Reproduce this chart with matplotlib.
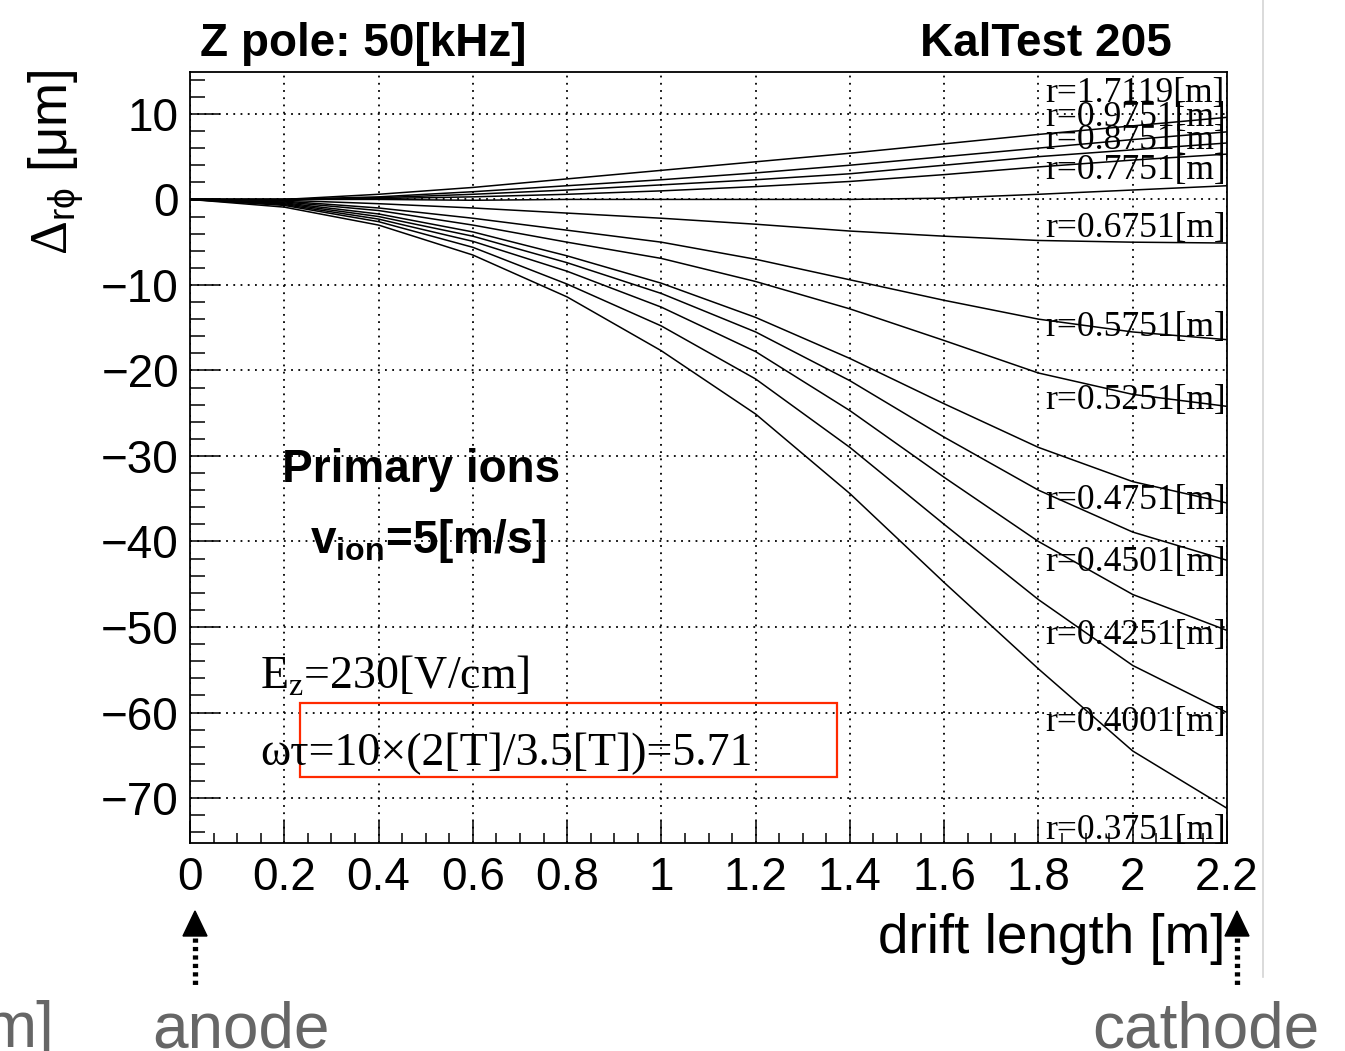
import matplotlib
matplotlib.use("Agg")
import matplotlib.pyplot as plt
from matplotlib.patches import Rectangle, Polygon
from matplotlib.lines import Line2D
from matplotlib.ticker import MultipleLocator, FuncFormatter
from matplotlib.transforms import blended_transform_factory

plt.rcParams['mathtext.fontset'] = 'custom'
plt.rcParams['mathtext.rm'] = 'Liberation Serif'
plt.rcParams['mathtext.sf'] = 'Liberation Sans'
plt.rcParams['mathtext.bf'] = 'Liberation Sans:bold'

# drift length sample points [m]
drift = [0.0, 0.2, 0.4, 0.6, 0.8, 1.0, 1.2, 1.4, 1.6, 1.8, 2.0, 2.2]

# r-phi distortion [um] for each radius
d_17119 = [0, 0, 0.6, 1.4, 2.4, 3.4, 4.4, 5.4, 6.5, 7.6, 8.6, 9.6]
d_09751 = [0, 0, 0.3, 0.9, 1.6, 2.3, 3.1, 4.0, 5.0, 6.0, 7.0, 7.9]
d_08751 = [0, 0, 0.2, 0.6, 1.1, 1.7, 2.3, 3.0, 4.0, 5.0, 5.8, 6.6]
d_08251 = [0, 0, 0.1, 0.3, 0.6, 1.0, 1.5, 2.1, 2.9, 3.8, 4.6, 5.3]
d_07751 = [0, 0, 0, -0.1, 0, 0, 0, 0, 0.15, 0.6, 1.1, 1.6]
d_06751 = [0, -0.1, -0.5, -1.0, -1.6, -2.2, -2.9, -3.7, -4.3, -4.8, -5.0, -5.1]
d_05751 = [0, -0.2, -1.0, -2.2, -3.6, -5.0, -7.0, -9.4, -11.8, -14.0, -15.5, -16.4]
d_05251 = [0, -0.3, -1.3, -3.0, -5.0, -6.9, -9.6, -12.8, -16.5, -20.3, -22.8, -24.2]
d_04751 = [0, -0.4, -1.7, -3.8, -6.6, -9.8, -13.8, -18.6, -23.9, -29.0, -33.0, -35.5]
d_04501 = [0, -0.5, -2.0, -4.3, -7.4, -11.0, -15.5, -21.2, -27.8, -34.0, -38.9, -42.2]
d_04251 = [0, -0.6, -2.3, -4.9, -8.4, -12.6, -17.8, -24.7, -32.5, -40.0, -46.2, -50.4]
d_04001 = [0, -0.7, -2.6, -5.6, -9.9, -14.8, -21.0, -29.0, -38.0, -46.8, -54.5, -60.0]
d_03751 = [0, -0.9, -3.0, -6.5, -11.4, -17.7, -25.1, -34.4, -44.8, -54.9, -64.5, -71.2]

curves = [d_17119, d_09751, d_08751, d_08251, d_07751, d_06751, d_05751,
          d_05251, d_04751, d_04501, d_04251, d_04001, d_03751]

# curve labels drawn at the right edge
label_names = ["1.7119", "0.9751", "0.8751", "0.7751", "0.6751", "0.5751",
               "0.5251", "0.4751", "0.4501", "0.4251", "0.4001", "0.3751"]
label_y = [12.4, 9.6, 6.9, 3.4, -3.4, -15.0, -23.5, -35.2, -42.5, -51.0, -61.2, -73.8]

W, H = 1345, 1051


def fx(px):
    return px / W


def fy(py):
    return 1 - py / H


fig = plt.figure(figsize=(W / 100, H / 100), dpi=100)
ax = fig.add_axes([fx(190), fy(843), (1227 - 190) / W, (843 - 72) / H])

for d in curves:
    ax.plot(drift, d, color='black', lw=1.1)

ax.set_xlim(0, 2.2)
ax.set_ylim(-75.26, 14.9)
ax.xaxis.set_major_locator(MultipleLocator(0.2))
ax.xaxis.set_minor_locator(MultipleLocator(0.05))
ax.yaxis.set_major_locator(MultipleLocator(10))
ax.yaxis.set_minor_locator(MultipleLocator(2))
ax.xaxis.set_major_formatter(FuncFormatter(lambda v, p: "%g" % round(v, 2)))
ax.yaxis.set_major_formatter(FuncFormatter(lambda v, p: ("%g" % v).replace("-", "\u2212")))
ax.tick_params(axis='x', which='major', direction='in', length=16, width=1.1, pad=9,
               labelsize=33, top=False)
ax.tick_params(axis='x', which='minor', direction='in', length=7.5, width=1.1, top=False)
ax.tick_params(axis='y', which='major', direction='in', length=21.5, width=1.1, pad=8,
               labelsize=33, right=False)
ax.tick_params(axis='y', which='minor', direction='in', length=11, width=1.1, right=False)
for lab in ax.get_xticklabels() + ax.get_yticklabels():
    lab.set_fontfamily('Liberation Sans')
for s in ax.spines.values():
    s.set_linewidth(1.3)
ax.grid(True, which='major', color='black', linestyle=(0, (1, 3)), linewidth=1.3)

tr = blended_transform_factory(ax.transAxes, ax.transData)
for name, y in zip(label_names, label_y):
    ax.text(0.8245, y, "r=%s[m]" % name, transform=tr, fontsize=25.6,
            fontfamily='Liberation Serif', ha='left', va='center')

# titles and annotations
bold = dict(fontfamily='Liberation Sans', fontweight='bold', fontsize=33)
fig.text(fx(200), fy(56), "Z pole: 50[kHz]", ha='left', va='baseline', **bold)
fig.text(fx(920), fy(56), "KalTest 205", ha='left', va='baseline', **bold)
fig.text(fx(282), fy(482), "Primary ions", ha='left', va='baseline', **bold)
fig.text(fx(310), fy(553), r"v$_{\mathbf{ion}}$=5[m/s]", ha='left', va='baseline', **bold)

serif = dict(fontfamily='Liberation Serif', fontsize=33)
fig.text(fx(260), fy(688), r"E$_{\mathrm{z}}$=230[V/cm]", ha='left', va='baseline', **serif)
fig.text(fx(260), fy(765), "\u03c9\u03c4=10\u00d7(2[T]/3.5[T])=5.71", ha='left', va='baseline', **serif)

fig.add_artist(Rectangle((fx(300), fy(777)), (837 - 300) / W, (777 - 703) / H,
                         transform=fig.transFigure, fill=False, edgecolor='#ff2a00', lw=1.6))

# axis titles
fig.text(fx(57), fy(70), "$\\Delta_{\\mathsf{r\\phi}}$ [\u03bcm]", rotation=90, ha='center', va='top',
         fontfamily='Liberation Sans', fontsize=38)
fig.text(fx(1225), fy(953), "drift length [m]", ha='right', va='baseline',
         fontfamily='Liberation Sans', fontsize=39.5)

# anode / cathode markers
gray = '#666666'
fig.text(fx(152), fy(1047), "anode", ha='left', va='baseline', color=gray,
         fontfamily='Liberation Sans', fontsize=46)
fig.text(fx(1092), fy(1047), "cathode", ha='left', va='baseline', color=gray,
         fontfamily='Liberation Sans', fontsize=46)
fig.text(fx(55), fy(1047), "m]", ha='right', va='baseline', color=gray,
         fontfamily='Liberation Sans', fontsize=46)
for ax_x in (195, 1237):
    fig.add_artist(Polygon([(fx(ax_x), fy(911)), (fx(ax_x - 12), fy(936)), (fx(ax_x + 12), fy(936))],
                           closed=True, transform=fig.transFigure, color='black'))
    fig.add_artist(Line2D([fx(ax_x), fx(ax_x)], [fy(938), fy(987)], transform=fig.transFigure,
                          color='black', lw=3.8, linestyle=(0, (0.8, 0.8))))

fig.add_artist(Line2D([fx(1263), fx(1263)], [fy(0), fy(977)], transform=fig.transFigure,
                      color='#d4d4d4', lw=1.2))

fig.savefig("out.png", dpi=100)
